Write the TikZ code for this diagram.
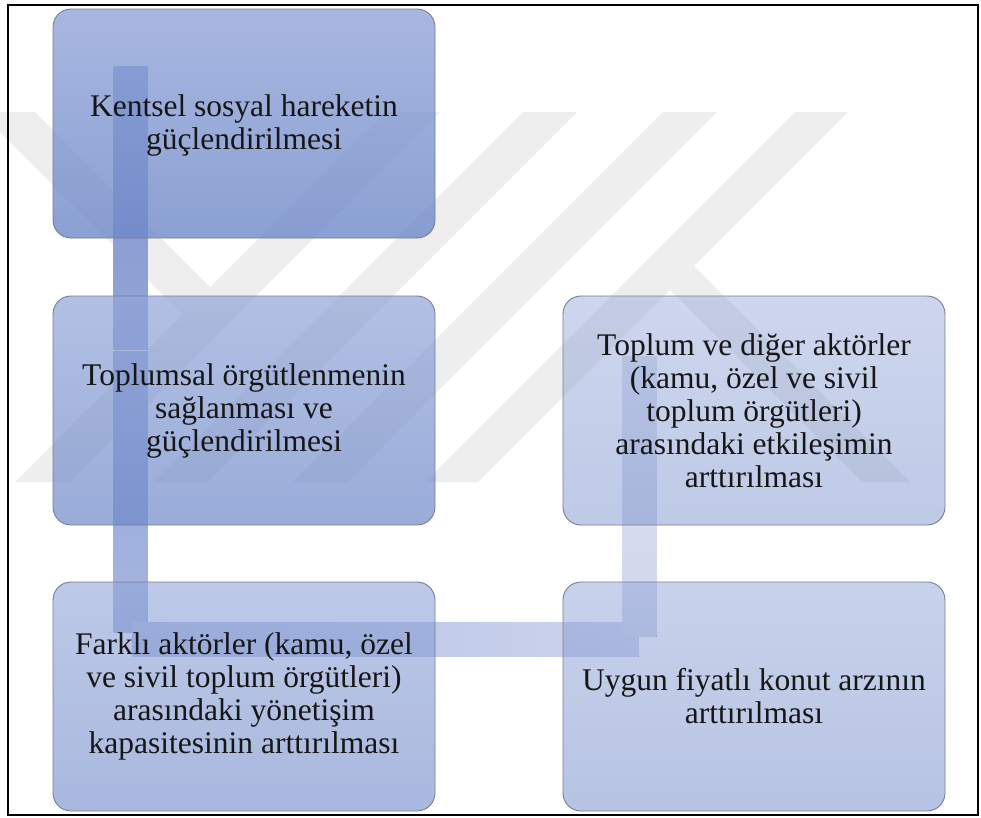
\documentclass[tikz,border=0pt]{standalone}
\usepackage{fontspec}
\setmainfont{Liberation Serif}
\usetikzlibrary{calc}
\pgfdeclarelayer{wm}
\pgfdeclarelayer{bg}
\pgfdeclarelayer{fg}
\pgfsetlayers{wm,bg,main,fg}
\definecolor{boxtop}{RGB}{146,165,216}
\definecolor{boxbot}{RGB}{110,136,200}
\definecolor{boxline}{RGB}{118,126,150}
\definecolor{txt}{RGB}{22,22,22}
\definecolor{aOne}{RGB}{128,150,207}
\definecolor{aTwo}{RGB}{146,165,215}
\definecolor{aThree}{RGB}{150,168,217}
\definecolor{aFour}{RGB}{166,181,223}
\definecolor{bLeft}{RGB}{178,191,228}
\definecolor{bRight}{RGB}{205,212,236}
\definecolor{cBot}{RGB}{208,214,236}
\definecolor{cTop}{RGB}{222,226,241}
\definecolor{wmgray}{RGB}{238,238,238}
\begin{document}
\begin{tikzpicture}[x=1pt,y=-1pt,
  box/.style={rectangle, rounded corners=18pt, minimum width=382pt,
    minimum height=229pt, draw=boxline, line width=0.9pt,
    top color=boxtop, bottom color=boxbot, inner sep=0pt},
  lbl/.style={align=center, text=txt, inner sep=0pt,
    font=\fontsize{31.5}{33}\selectfont},
  wmark/.style={fill=wmgray}]
\useasboundingbox (0,0) rectangle (981,817);

% boxes
\node[box, fill opacity=0.80] (b1) at (244,123.5) {};
\node[box, fill opacity=0.70] (b2) at (244,410.5) {};
\node[box, fill opacity=0.60] (b3) at (244,696.5) {};
\node[box, fill opacity=0.50] (b4) at (754,696.5) {};
\node[box, fill opacity=0.45] (b5) at (754,410.5) {};

% connector bands (behind boxes)
\begin{pgfonlayer}{bg}
\fill[top color=aOne, bottom color=aTwo]
  ($(b1.north west)+(61,58)$) rectangle ($(b2.north west)+(95,54)$);
\fill[top color=aThree, bottom color=aFour]
  ($(b2.north west)+(61,56)$) rectangle ($(b3.north west)+(95,51)$);
\fill[left color=bLeft, right color=bRight]
  ($(b3.north west)+(80,41)$) rectangle ($(b4.north west)+(76,75)$);
\fill[top color=cTop, bottom color=cBot]
  ($(b5.north west)+(60,61)$) rectangle ($(b4.north west)+(94,55)$);
\end{pgfonlayer}

% watermark (page background)
\begin{pgfonlayer}{wm}
\fill[wmark]
  (-20,112) -- (35,112) -- (210,287) -- (182.5,314.5) -- cycle
  (385,112) -- (440,112) -- (70,482) -- (15,482) -- cycle
  (523,112) -- (577,112) -- (207,482) -- (153,482) -- cycle
  (663,112) -- (717,112) -- (347,482) -- (293,482) -- cycle
  (795,112) -- (848,112) -- (478,482) -- (425,482) -- cycle
  (694,266) -- (910,482) -- (862,482) -- (670,290) -- cycle;
\end{pgfonlayer}

% texts
\begin{pgfonlayer}{fg}
\node[lbl] (t1) at ($(b1.center)+(0,2)$) {Kentsel sosyal hareketin\\güçlendirilmesi};
\node[lbl] (t2) at (b2.center) {Toplumsal örgütlenmenin\\sağlanması ve\\güçlendirilmesi};
\node[lbl] (t3) at (b3.center) {Farklı aktörler (kamu, özel\\ve sivil toplum örgütleri)\\arasındaki yönetişim\\kapasitesinin arttırılması};
\node[lbl] (t4) at (b4.center) {Uygun fiyatlı konut arzının\\arttırılması};
\node[lbl] (t5) at (b5.center) {Toplum ve diğer aktörler\\(kamu, özel ve sivil\\toplum örgütleri)\\arasındaki etkileşimin\\arttırılması};
\draw[line width=2pt, black] (8,5) rectangle (977.5,814.5);
\end{pgfonlayer}
\end{tikzpicture}
\end{document}
